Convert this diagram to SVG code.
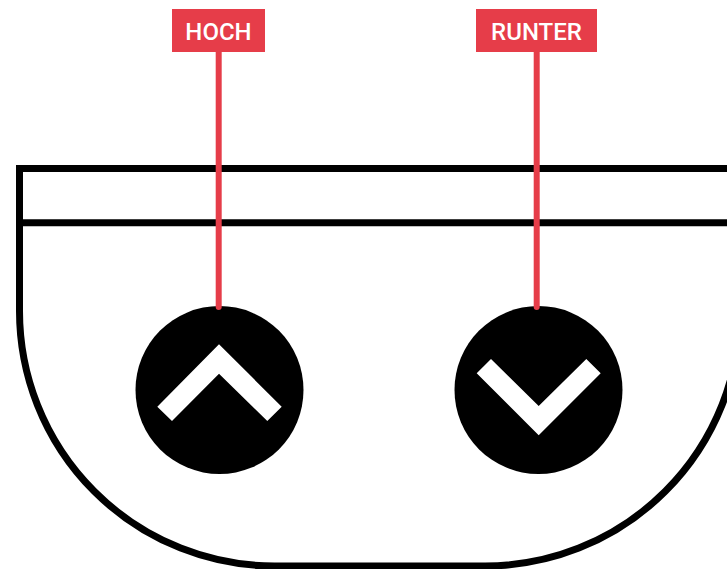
<svg xmlns="http://www.w3.org/2000/svg" width="727" height="569" viewBox="0 0 727 569">
<style>
.o{fill:none;stroke:#000;stroke-width:7}
.l{fill:#e63d49}
.c{stroke:#e63d49;stroke-width:6;stroke-linecap:round;fill:none}
.t{font-family:Roboto,"Liberation Sans",sans-serif;font-size:24px;font-weight:500;fill:#fff;text-anchor:middle}
.k{fill:#000}
.v{fill:#fff}
</style>
<rect width="727" height="569" fill="#fff"/>
<g id="panel">
<path class="o" d="M740 168.500H19.500V311A255 255 0 0 0 274.500 566H485A255 255 0 0 0 740 311"/>
<path class="o" d="M16 222.800H727"/>
</g>
<g id="button-up">
<circle class="k" cx="219.500" cy="390" r="84"/>
<path class="v" d="M219 344.300L281.700 406.700L267.300 421L219 373.700L172 421L157.300 406.700Z"/>
</g>
<g id="button-down">
<circle class="k" cx="538.500" cy="390" r="84"/>
<path class="v" d="M538.700 435.300L600.700 373.300L586.300 359L538.700 406L491 359L476.700 373.300Z"/>
</g>
<g id="connectors">
<path class="c" d="M218.700 50V307"/>
<path class="c" d="M536.700 50V307"/>
</g>
<g id="label-hoch">
<rect class="l" x="172" y="9" width="93" height="43"/>
<text class="t" x="218.500" y="40">HOCH</text>
</g>
<g id="label-runter">
<rect class="l" x="476" y="9" width="121" height="43"/>
<text class="t" x="536.500" y="40">RUNTER</text>
</g>
</svg>
